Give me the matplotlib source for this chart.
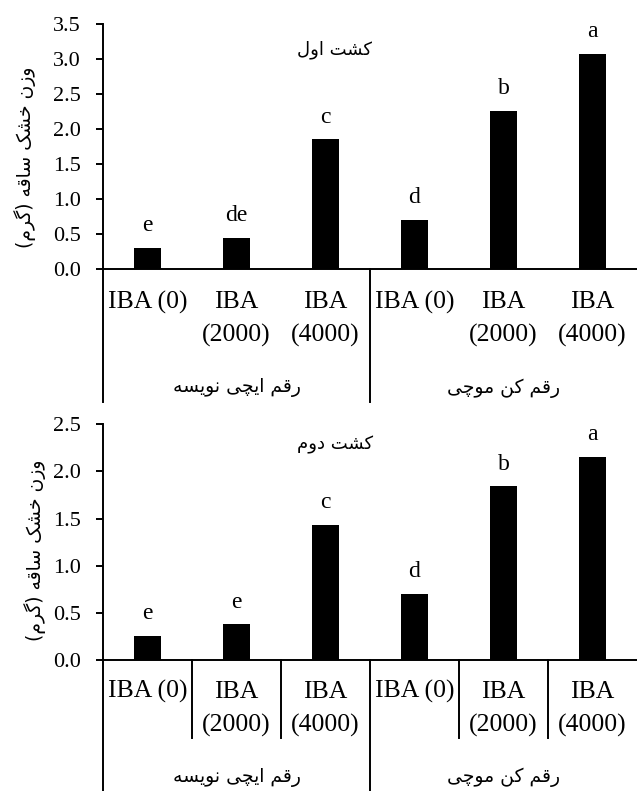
import matplotlib
matplotlib.use("Agg")
import matplotlib.pyplot as plt
import matplotlib.transforms as mtransforms

# data
treatments = ["IBA (0)", "IBA\n(2000)", "IBA\n(4000)", "IBA (0)", "IBA\n(2000)", "IBA\n(4000)"]
cultivars = ["رقم ایچی نویسه", "رقم کن موچی"]
weight_first = [0.30, 0.44, 1.85, 0.70, 2.26, 3.07]
letters_first = ["e", "de", "c", "d", "b", "a"]
weight_second = [0.26, 0.38, 1.43, 0.70, 1.84, 2.15]
letters_second = ["e", "e", "c", "d", "b", "a"]
title_first = "کشت اول"
title_second = "کشت دوم"
ylabel = "وزن خشک ساقه (گرم)"

# very small persian shaper: presentation forms (iso, fin, ini, med)
FORMS = {
    'ا': (0xFE8D, 0xFE8E, None, None),
    'ت': (0xFE95, 0xFE96, 0xFE97, 0xFE98),
    'خ': (0xFEA5, 0xFEA6, 0xFEA7, 0xFEA8),
    'د': (0xFEA9, 0xFEAA, None, None),
    'ر': (0xFEAD, 0xFEAE, None, None),
    'ز': (0xFEAF, 0xFEB0, None, None),
    'س': (0xFEB1, 0xFEB2, 0xFEB3, 0xFEB4),
    'ش': (0xFEB5, 0xFEB6, 0xFEB7, 0xFEB8),
    'ق': (0xFED5, 0xFED6, 0xFED7, 0xFED8),
    'ل': (0xFEDD, 0xFEDE, 0xFEDF, 0xFEE0),
    'م': (0xFEE1, 0xFEE2, 0xFEE3, 0xFEE4),
    'ن': (0xFEE5, 0xFEE6, 0xFEE7, 0xFEE8),
    'ه': (0xFEE9, 0xFEEA, 0xFEEB, 0xFEEC),
    'و': (0xFEED, 0xFEEE, None, None),
    'ک': (0xFB8E, 0xFB8F, 0xFB90, 0xFB91),
    'گ': (0xFB92, 0xFB93, 0xFB94, 0xFB95),
    'چ': (0xFB7A, 0xFB7B, 0xFB7C, 0xFB7D),
    'ی': (0xFBFC, 0xFBFD, 0xFBFE, 0xFBFF),
}

def fa(s):
    out = []
    for i, ch in enumerate(s):
        if ch not in FORMS:
            out.append(ch)
            continue
        prev = s[i-1] if i > 0 else None
        nxt = s[i+1] if i < len(s)-1 else None
        jp = prev in FORMS and FORMS[prev][2] is not None
        jn = FORMS[ch][2] is not None and nxt in FORMS
        f = FORMS[ch]
        if jp and jn:
            c = f[3]
        elif jp:
            c = f[1]
        elif jn:
            c = f[2]
        else:
            c = f[0]
        out.append(chr(c))
    vis = "".join(out)[::-1]
    return vis.translate(str.maketrans("()", ")("))

serif = ['Liberation Serif', 'DejaVu Sans']
persian = ['DejaVu Sans']

fig = plt.figure(figsize=(6.37, 7.91), dpi=100)

def panel(rect, vals, lets, ymax, title, title_y, ylab_xy, inner, line_end, label_rows, grp_y):
    ax = fig.add_axes(rect)
    x = list(range(len(vals)))
    ax.bar(x, vals, width=0.31, color='black')
    ax.set_xlim(-0.5, 5.5)
    ax.set_ylim(0, ymax)
    ax.set_yticks([i * 0.5 for i in range(int(ymax / 0.5) + 1)])
    ax.set_yticklabels(["%.1f" % (i * 0.5) for i in range(int(ymax / 0.5) + 1)],
                       family=serif, fontsize=16)
    ax.set_xticks([])
    for s in ['top', 'right']:
        ax.spines[s].set_visible(False)
    ax.spines['left'].set_linewidth(1.4)
    ax.spines['bottom'].set_linewidth(1.4)
    ax.tick_params(axis='y', direction='out', length=5, width=1.4, pad=11)
    for xi, v, l in zip(x, vals, lets):
        ax.annotate(l, (xi, v), xytext=(0, 16), textcoords='offset points',
                    ha='center', va='center', family=serif, fontsize=17)
    ax.text(0.434, title_y, fa(title), transform=ax.transAxes, ha='center',
            va='center', family=persian, fontsize=13)
    fig.text(ylab_xy[0], ylab_xy[1], fa(ylabel), rotation=90, ha='center',
             va='center', family=persian, fontsize=13.5)
    tr = mtransforms.blended_transform_factory(ax.transData, ax.transAxes)
    # multi level category axis
    for b in [-0.5, 2.5]:
        ax.plot([b, b], [0, line_end], color='black', lw=1.4, transform=tr, clip_on=False)
    if inner is not None:
        for b in [0.5, 1.5, 3.5, 4.5]:
            ax.plot([b, b], [0, inner], color='black', lw=1.4, transform=tr, clip_on=False)
    for xi, lab in zip(x, treatments):
        for r, part in enumerate(lab.split("\n")):
            ax.text(xi, label_rows[r], part, transform=tr, ha='center', va='center',
                    family=serif, fontsize=18.5)
    for g, name in enumerate(cultivars):
        ax.text(1 + 3 * g, grp_y, fa(name), transform=tr, ha='center', va='center',
                family=persian, fontsize=13.5)
    return ax

panel([103/637, 1 - 269/791, 534/637, 245.3/791], weight_first, letters_first, 3.5,
      title_first, 0.893, (25/637, 1 - 157/791), None, -0.542, [-0.135, -0.269], -0.485)
panel([103/637, 1 - 660.3/791, 534/637, 236.3/791], weight_second, letters_second, 2.5,
      title_second, 0.911, (35/637, 1 - 550/791), -0.329, -0.56, [-0.133, -0.274], -0.494)

fig.savefig("out.png", dpi=100)
